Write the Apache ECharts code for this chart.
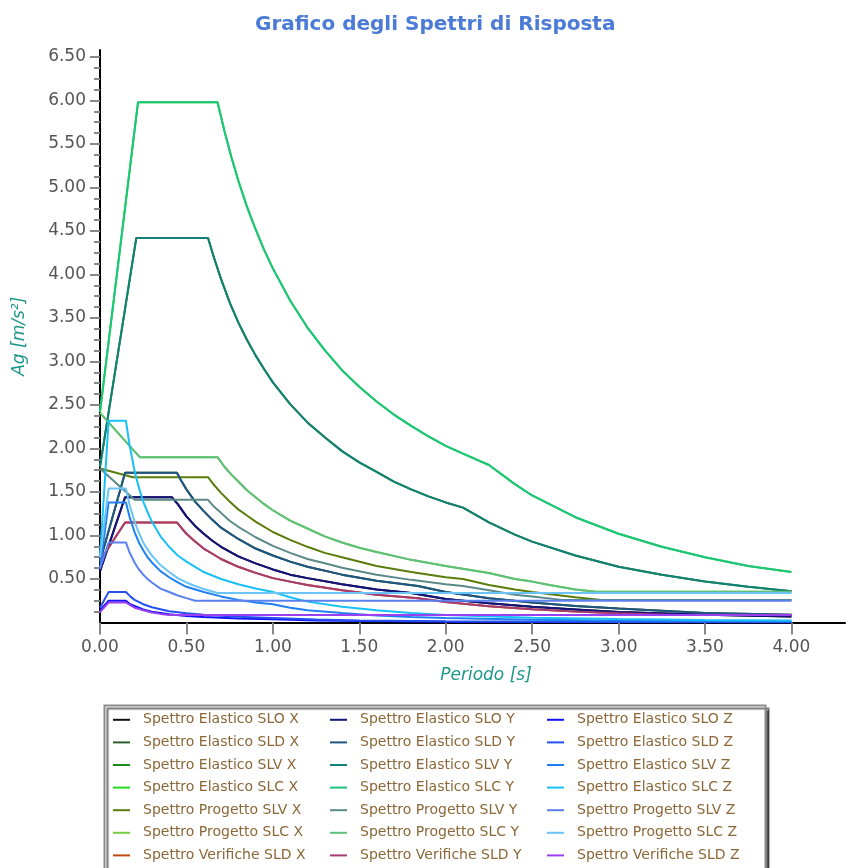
<!DOCTYPE html>
<html><head><meta charset="utf-8">
<script src="https://cdn.jsdelivr.net/npm/echarts@6/dist/echarts.min.js"></script>
<style>html,body{margin:0;padding:0;background:#fff}#c{width:849px;height:868px}</style>
</head><body><div id="c"></div>
<script>
// ---- tick labels ----
const xTicks = [0, 0.5, 1, 1.5, 2, 2.5, 3, 3.5, 4];
const yTicks = [0.5, 1, 1.5, 2, 2.5, 3, 3.5, 4, 4.5, 5, 5.5, 6, 6.5];

// ---- series values: [Periodo s, Ag m/s²] ----
const elSLO_Y = [[0,0.59],[0.145,1.44],[0.415,1.44],[0.45,1.36],[0.5,1.22],[0.55,1.11],[0.6,1.02],[0.65,0.94],[0.7,0.87],[0.8,0.76],[0.9,0.68],[1.0,0.61],[1.1,0.55],[1.2,0.51],[1.4,0.44],[1.6,0.38],[1.8,0.34],[2.0,0.27],[2.25,0.22],[2.5,0.18],[2.75,0.15],[3.0,0.12],[3.5,0.09],[4.0,0.07]];
const elSLD_Y = [[0,0.70],[0.145,1.72],[0.445,1.72],[0.47,1.63],[0.5,1.53],[0.55,1.39],[0.6,1.28],[0.65,1.18],[0.7,1.09],[0.8,0.96],[0.9,0.85],[1.0,0.77],[1.1,0.70],[1.2,0.64],[1.4,0.55],[1.6,0.48],[1.84,0.42],[2.0,0.35],[2.25,0.28],[2.5,0.23],[2.75,0.19],[3.0,0.16],[3.5,0.11],[4.0,0.09]];
const elSLV_Y = [[0,1.79],[0.21,4.42],[0.625,4.42],[0.66,4.19],[0.7,3.95],[0.75,3.68],[0.8,3.45],[0.85,3.25],[0.9,3.07],[0.95,2.91],[1.0,2.76],[1.1,2.51],[1.2,2.30],[1.3,2.13],[1.4,1.97],[1.5,1.84],[1.6,1.73],[1.7,1.62],[1.8,1.53],[1.9,1.45],[2.0,1.38],[2.1,1.32],[2.25,1.15],[2.4,1.01],[2.5,0.93],[2.75,0.77],[3.0,0.64],[3.25,0.55],[3.5,0.47],[3.75,0.41],[4.0,0.36]];
const elSLC_Y = [[0,2.42],[0.22,5.98],[0.68,5.98],[0.72,5.65],[0.76,5.35],[0.8,5.08],[0.85,4.78],[0.9,4.52],[0.95,4.28],[1.0,4.07],[1.1,3.70],[1.2,3.39],[1.3,3.13],[1.4,2.90],[1.5,2.71],[1.6,2.54],[1.7,2.39],[1.8,2.26],[1.9,2.14],[2.0,2.03],[2.1,1.94],[2.25,1.81],[2.4,1.59],[2.5,1.46],[2.75,1.21],[3.0,1.02],[3.25,0.87],[3.5,0.75],[3.75,0.65],[4.0,0.58]];
const elSLO_X = elSLO_Y;
const elSLD_X = elSLD_Y;
const elSLV_X = elSLV_Y;
const elSLC_X = elSLC_Y;
const prSLV_X = [[0,1.77],[0.19,1.67],[0.625,1.67],[0.66,1.58],[0.7,1.49],[0.75,1.39],[0.8,1.30],[0.85,1.23],[0.9,1.16],[1.0,1.04],[1.1,0.95],[1.2,0.87],[1.3,0.80],[1.4,0.75],[1.6,0.65],[1.8,0.58],[2.0,0.52],[2.1,0.50],[2.25,0.43],[2.4,0.38],[2.5,0.35],[2.75,0.29],[2.9,0.26],[4.0,0.26]];
const prSLV_Y = [[0,1.77],[0.2,1.41],[0.625,1.41],[0.66,1.33],[0.7,1.26],[0.75,1.17],[0.8,1.10],[0.85,1.04],[0.9,0.98],[1.0,0.88],[1.1,0.80],[1.2,0.73],[1.3,0.68],[1.4,0.63],[1.6,0.55],[1.8,0.49],[2.0,0.44],[2.1,0.42],[2.25,0.37],[2.4,0.32],[2.5,0.30],[2.67,0.26],[4.0,0.26]];
const prSLC_Y = [[0,2.41],[0.23,1.90],[0.68,1.90],[0.72,1.79],[0.76,1.70],[0.8,1.62],[0.85,1.52],[0.9,1.44],[0.95,1.36],[1.0,1.29],[1.1,1.17],[1.2,1.08],[1.3,0.99],[1.4,0.92],[1.5,0.86],[1.6,0.81],[1.8,0.72],[2.0,0.65],[2.25,0.57],[2.4,0.50],[2.5,0.47],[2.6,0.43],[2.75,0.38],[2.87,0.354],[4.0,0.354]];
const prSLC_X = prSLC_Y;
const veSLD_Y = [[0,0.71],[0.145,1.15],[0.445,1.15],[0.47,1.09],[0.5,1.02],[0.55,0.93],[0.6,0.85],[0.65,0.79],[0.7,0.73],[0.8,0.64],[0.9,0.57],[1.0,0.51],[1.1,0.47],[1.2,0.43],[1.4,0.37],[1.6,0.32],[1.84,0.28],[2.0,0.235],[2.25,0.186],[2.5,0.151],[2.75,0.125],[3.0,0.105],[3.31,0.086],[4.0,0.086]];
const veSLD_X = veSLD_Y;
const elSLO_Z = [[0,0.14],[0.05,0.25],[0.15,0.25],[0.175,0.21],[0.2,0.19],[0.25,0.15],[0.3,0.125],[0.4,0.094],[0.5,0.075],[0.6,0.063],[0.8,0.047],[1.0,0.038],[1.25,0.024],[1.5,0.017],[2.0,0.009],[3.0,0.004],[4.0,0.002]];
const elSLD_Z = [[0,0.17],[0.05,0.35],[0.15,0.35],[0.175,0.30],[0.2,0.26],[0.25,0.21],[0.3,0.175],[0.4,0.13],[0.5,0.105],[0.6,0.088],[0.8,0.066],[1.0,0.053],[1.25,0.034],[1.5,0.023],[2.0,0.013],[3.0,0.006],[4.0,0.003]];
const elSLV_Z = [[0,0.62],[0.05,1.38],[0.15,1.38],[0.17,1.22],[0.2,1.04],[0.225,0.92],[0.25,0.83],[0.275,0.75],[0.3,0.69],[0.35,0.59],[0.4,0.52],[0.45,0.46],[0.5,0.41],[0.6,0.35],[0.7,0.30],[0.8,0.26],[0.9,0.23],[1.0,0.21],[1.1,0.17],[1.2,0.14],[1.4,0.11],[1.6,0.081],[1.8,0.064],[2.0,0.052],[2.5,0.033],[3.0,0.023],[3.5,0.017],[4.0,0.013]];
const elSLC_Z = [[0,0.75],[0.05,2.32],[0.15,2.32],[0.17,2.05],[0.2,1.74],[0.225,1.55],[0.25,1.39],[0.275,1.27],[0.3,1.16],[0.35,0.99],[0.4,0.87],[0.45,0.77],[0.5,0.70],[0.6,0.58],[0.7,0.50],[0.8,0.44],[0.9,0.39],[1.0,0.35],[1.1,0.29],[1.2,0.24],[1.4,0.18],[1.6,0.14],[1.8,0.11],[2.0,0.087],[2.5,0.056],[3.0,0.039],[3.5,0.028],[4.0,0.022]];
const prSLV_Z = [[0,0.62],[0.05,0.92],[0.15,0.92],[0.17,0.81],[0.2,0.69],[0.225,0.61],[0.25,0.55],[0.275,0.50],[0.3,0.46],[0.35,0.39],[0.4,0.35],[0.45,0.31],[0.5,0.28],[0.55,0.25],[4.0,0.25]];
const prSLC_Z = [[0,0.75],[0.05,1.54],[0.15,1.54],[0.17,1.36],[0.2,1.16],[0.225,1.03],[0.25,0.92],[0.275,0.84],[0.3,0.77],[0.35,0.66],[0.4,0.58],[0.45,0.51],[0.5,0.46],[0.55,0.42],[0.6,0.385],[0.68,0.34],[4.0,0.34]];
const veSLD_Z = [[0,0.12],[0.05,0.23],[0.15,0.23],[0.175,0.20],[0.2,0.17],[0.25,0.14],[0.3,0.115],[0.35,0.099],[0.4,0.086],[4.0,0.086]];

// ---- series names / colours ----
const namesX = ['Spettro Elastico SLO X','Spettro Elastico SLD X','Spettro Elastico SLV X','Spettro Elastico SLC X','Spettro Progetto SLV X','Spettro Progetto SLC X','Spettro Verifiche SLD X'];
const namesY = ['Spettro Elastico SLO Y','Spettro Elastico SLD Y','Spettro Elastico SLV Y','Spettro Elastico SLC Y','Spettro Progetto SLV Y','Spettro Progetto SLC Y','Spettro Verifiche SLD Y'];
const namesZ = ['Spettro Elastico SLO Z','Spettro Elastico SLD Z','Spettro Elastico SLV Z','Spettro Elastico SLC Z','Spettro Progetto SLV Z','Spettro Progetto SLC Z','Spettro Verifiche SLD Z'];
const dataX = [elSLO_X, elSLD_X, elSLV_X, elSLC_X, prSLV_X, prSLC_X, veSLD_X];
const dataY = [elSLO_Y, elSLD_Y, elSLV_Y, elSLC_Y, prSLV_Y, prSLC_Y, veSLD_Y];
const dataZ = [elSLO_Z, elSLD_Z, elSLV_Z, elSLC_Z, prSLV_Z, prSLC_Z, veSLD_Z];
const colorsX = ['#111111','#2c5e2c','#188c18','#20e020','#5a7d0a','#7acc44','#c04a10'];
const colorsY = ['#14147c','#1f5582','#128078','#1ec47e','#5a8a88','#5ec07c','#a83a72'];
const colorsZ = ['#1212f8','#2450f0','#1e80f4','#18c0f8','#5a80f0','#6ac4f8','#9a40f0'];

const FONT = 'DejaVu Sans';
const series = [];
[[namesX, dataX, colorsX], [namesY, dataY, colorsY], [namesZ, dataZ, colorsZ]].forEach(([ns, ds, cs]) => {
  ns.forEach((n, i) => series.push({
    name: n, type: 'line', data: ds[i], symbol: 'none', color: cs[i],
    lineStyle: { width: 2, color: cs[i] }, xAxisIndex: 0, yAxisIndex: 0
  }));
});

const minorY = [];
for (let v = 0.125; v < 6.55; v += 0.125) {
  const r = Math.round(v * 1000) / 1000;
  if (Math.abs(r / 0.5 - Math.round(r / 0.5)) > 1e-6) minorY.push(r);
}

const legendBase = {
  type: 'plain', orient: 'vertical', top: 708.5, itemWidth: 17, itemHeight: 2, itemGap: 0, icon: 'rect',
  padding: 0, height: 165, selectedMode: false,
  textStyle: { fontFamily: FONT, fontSize: 14, color: '#8b6737', lineHeight: 22.6, padding: [0, 0, 0, 8] }
};

const chart = echarts.init(document.getElementById('c'), null, { renderer: 'canvas' });
chart.setOption({
  animation: false,
  backgroundColor: '#fff',
  title: {
    text: 'Grafico degli Spettri di Risposta', left: 255, top: 15, padding: 0,
    textStyle: { fontFamily: FONT, fontSize: 20, fontWeight: 'bold', color: '#4b7bd6' }
  },
  grid: { left: 100, right: 4, top: 50, bottom: 245.5, containLabel: false },
  xAxis: {
    type: 'value', min: 0, max: 4.31, interval: 0.5,
    name: 'Periodo [s]', nameLocation: 'middle', nameGap: 45,
    nameTextStyle: { fontFamily: FONT, fontSize: 17, fontStyle: 'italic', color: '#1f968b', padding: [0, 0, 0, 27] },
    axisLine: { show: true, onZero: false, lineStyle: { color: '#000', width: 2 } },
    axisTick: { show: true, length: 12, customValues: xTicks, lineStyle: { color: '#888', width: 2 } },
    axisLabel: { customValues: xTicks, margin: 17, fontFamily: FONT, fontSize: 17, color: '#555',
      formatter: v => v.toFixed(2) },
    splitLine: { show: false }
  },
  yAxis: [{
    type: 'value', min: 0, max: 6.58, interval: 0.5,
    name: 'Ag [m/s²]', nameLocation: 'middle', nameGap: 72,
    nameTextStyle: { fontFamily: FONT, fontSize: 17, fontStyle: 'italic', color: '#1f968b' },
    axisLine: { show: true, onZero: false, lineStyle: { color: '#000', width: 2 } },
    axisTick: { show: true, length: 10, customValues: yTicks, lineStyle: { color: '#888', width: 2 } },
    axisLabel: { customValues: yTicks, margin: 14, fontFamily: FONT, fontSize: 17, color: '#555',
      formatter: v => v.toFixed(2) },
    splitLine: { show: false }
  }, {
    type: 'value', min: 0, max: 6.58, interval: 0.5, position: 'left', offset: 0,
    axisLine: { show: false },
    axisTick: { show: true, length: 6, customValues: minorY, lineStyle: { color: '#888', width: 2 } },
    axisLabel: { show: false },
    splitLine: { show: false }
  }],
  graphic: [{
    type: 'rect', z: -1, silent: true,
    shape: { x: 104.5, y: 705.5, width: 661, height: 200 },
    style: { fill: '#fff', stroke: '#8c8c8c', lineWidth: 2, shadowColor: 'rgba(0,0,0,0.55)', shadowOffsetX: 3, shadowOffsetY: 3, shadowBlur: 1 }
  }],
  legend: [
    Object.assign({}, legendBase, { left: 113, data: namesX }),
    Object.assign({}, legendBase, { left: 330, data: namesY }),
    Object.assign({}, legendBase, { left: 547, data: namesZ })
  ],
  series: series
});
</script></body></html>
